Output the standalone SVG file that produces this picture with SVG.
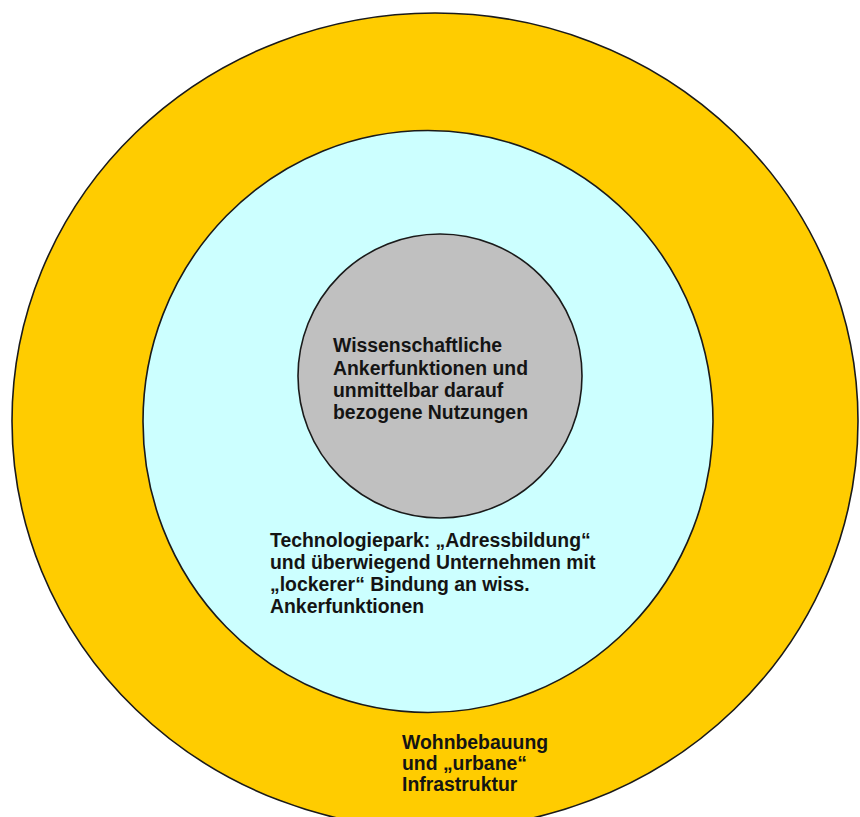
<svg xmlns="http://www.w3.org/2000/svg" width="860" height="817" viewBox="0 0 860 817">
  <style>
    .ring { stroke: #1a1a1a; stroke-width: 1.6; }
    .lbl { font-family: "Liberation Sans", Arial, sans-serif; font-weight: bold; font-size: 19.4px; fill: #141414; }
  </style>
  <rect x="0" y="0" width="860" height="817" fill="#ffffff"/>
  <g id="outer">
    <ellipse class="ring" cx="435" cy="421" rx="423" ry="408" fill="#FFCC00"/>
    <text class="lbl" font-size="19px">
      <tspan x="402" y="749">Wohnbebauung</tspan>
      <tspan x="402" y="770">und „urbane“</tspan>
      <tspan x="402" y="791">Infrastruktur</tspan>
    </text>
  </g>
  <g id="middle">
    <ellipse class="ring" cx="428" cy="421.5" rx="285" ry="291" fill="#CCFFFF"/>
    <text class="lbl">
      <tspan x="270" y="547">Technologiepark: „Adressbildung“</tspan>
      <tspan x="270" y="569">und überwiegend Unternehmen mit</tspan>
      <tspan x="270" y="591">„lockerer“ Bindung an wiss.</tspan>
      <tspan x="270" y="613">Ankerfunktionen</tspan>
    </text>
  </g>
  <g id="inner">
    <circle class="ring" cx="440" cy="376" r="142" fill="#C0C0C0"/>
    <text class="lbl">
      <tspan x="333" y="352">Wissenschaftliche</tspan>
      <tspan x="333" y="374.5">Ankerfunktionen und</tspan>
      <tspan x="333" y="397">unmittelbar darauf</tspan>
      <tspan x="333" y="419">bezogene Nutzungen</tspan>
    </text>
  </g>
  <g id="connectors"></g>
</svg>
